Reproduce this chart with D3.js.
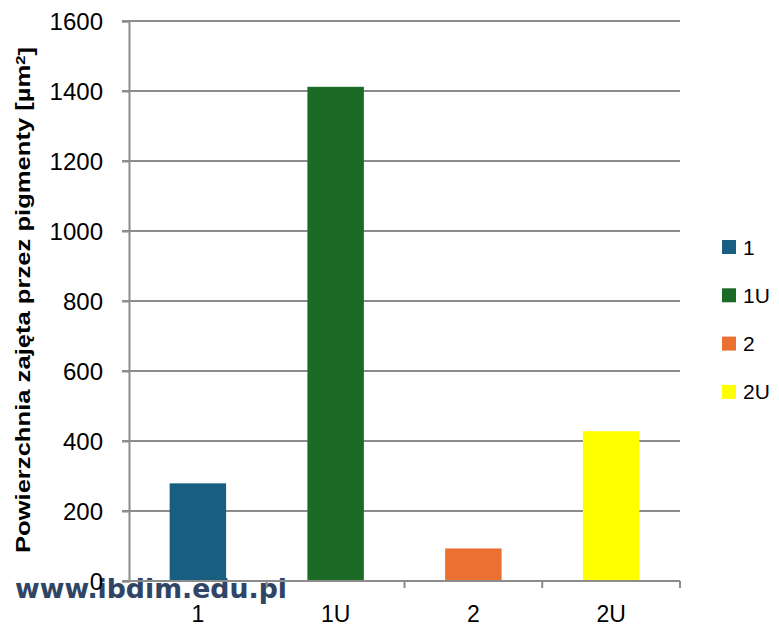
<!DOCTYPE html>
<html>
<head>
<meta charset="utf-8">
<script src="https://cdn.jsdelivr.net/npm/d3@7"></script>
<style>
  body { margin: 0; background: #fff; }
  text { font-family: "Liberation Sans", Arial, sans-serif; }
</style>
</head>
<body>
<div id="chart-area"></div>
<script>
// data
const categories = ["1", "1U", "2", "2U"]
const values = [279, 1412, 93, 428]
const colors = ["#175e80", "#1b6b26", "#ea7131", "#ffff00"]
const yTicks = [0, 200, 400, 600, 800, 1000, 1200, 1400, 1600]

const W = 779, H = 625
const MARGIN = { LEFT: 129, RIGHT: 99, TOP: 21, BOTTOM: 44 }
const WIDTH = W - MARGIN.LEFT - MARGIN.RIGHT
const HEIGHT = H - MARGIN.TOP - MARGIN.BOTTOM

const svg = d3.select("#chart-area").append("svg")
	.attr("width", W)
	.attr("height", H)

// watermark (sits under the axis)
svg.append("text")
	.attr("x", 15)
	.attr("y", 598)
	.attr("textLength", 272)
	.attr("lengthAdjust", "spacingAndGlyphs")
	.style("font-family", "'DejaVu Sans', Verdana, sans-serif")
	.style("font-weight", "bold")
	.style("font-size", "26px")
	.style("fill", "#2f4563")
	.style("stroke", "#e8eef6")
	.style("stroke-width", 0.6)
	.style("paint-order", "stroke")
	.text("www.ibdim.edu.pl")

const g = svg.append("g")
	.attr("transform", `translate(${MARGIN.LEFT}, ${MARGIN.TOP})`)

const x = d3.scaleBand()
	.domain(categories)
	.range([0, WIDTH])
	.paddingInner(0.59)
	.paddingOuter(0.295)

const y = d3.scaleLinear()
	.domain([0, 1600])
	.range([HEIGHT, 0])

// gridlines
g.append("g")
	.selectAll("line")
	.data(yTicks.filter(d => d > 0))
	.enter().append("line")
	.attr("x1", -7)
	.attr("x2", WIDTH)
	.attr("y1", d => y(d))
	.attr("y2", d => y(d))
	.attr("stroke", "#8c8c8c")
	.attr("stroke-width", 2)

// y axis
const yAxisCall = d3.axisLeft(y)
	.tickValues(yTicks)
	.tickFormat(d3.format("d"))
	.tickSize(7)
	.tickPadding(19)
const yAxisGroup = g.append("g").call(yAxisCall)
yAxisGroup.select(".domain").attr("stroke", "#8c8c8c").attr("stroke-width", 2)
yAxisGroup.selectAll(".tick line").attr("stroke", "#8c8c8c").attr("stroke-width", 2)
yAxisGroup.selectAll("text")
	.style("font-size", "24px")
	.attr("fill", "#000")
	.attr("dy", "0.36em")

// bars
g.selectAll("rect.bar")
	.data(values)
	.enter().append("rect")
	.attr("class", "bar")
	.attr("x", (d, i) => x(categories[i]))
	.attr("width", x.bandwidth())
	.attr("y", d => y(d))
	.attr("height", d => HEIGHT - y(d))
	.attr("fill", (d, i) => colors[i])

// x axis with ticks between categories
const xAxisGroup = g.append("g")
	.attr("transform", `translate(0, ${HEIGHT})`)
xAxisGroup.append("line")
	.attr("x1", -7)
	.attr("x2", WIDTH)
	.attr("stroke", "#8c8c8c")
	.attr("stroke-width", 2)
xAxisGroup.selectAll("line.sep")
	.data(categories.slice(1).concat([null]))
	.enter().append("line")
	.attr("class", "sep")
	.attr("x1", (d, i) => i < categories.length - 1 ? x(d) - x.step() * x.paddingInner() / 2 : WIDTH)
	.attr("x2", (d, i) => i < categories.length - 1 ? x(d) - x.step() * x.paddingInner() / 2 : WIDTH)
	.attr("y1", 0)
	.attr("y2", 7)
	.attr("stroke", "#8c8c8c")
	.attr("stroke-width", 2)
xAxisGroup.selectAll("text")
	.data(categories)
	.enter().append("text")
	.attr("x", d => x(d) + x.bandwidth() / 2)
	.attr("y", 41)
	.attr("text-anchor", "middle")
	.style("font-size", "23px")
	.text(d => d)

// y label, stretched along its length like the reference
const yLabel = svg.append("text")
	.attr("transform", "translate(30, 300) rotate(-90) scale(1.28, 1)")
	.attr("text-anchor", "middle")
	.style("font-size", "20px")
	.style("font-weight", "bold")
yLabel.append("tspan").text("Powierzchnia zajęta przez pigmenty [µm")
yLabel.append("tspan").attr("dy", "-0.4em").style("font-size", "13px").text("2")
yLabel.append("tspan").attr("dy", "0.4em").text("]")

// legend
const legend = svg.append("g")
	.attr("transform", "translate(722, 247)")
const items = legend.selectAll("g")
	.data(categories)
	.enter().append("g")
	.attr("transform", (d, i) => `translate(0, ${i * 48.3})`)
items.append("rect")
	.attr("x", 0)
	.attr("y", -7)
	.attr("width", 14)
	.attr("height", 14)
	.attr("fill", (d, i) => colors[i])
items.append("text")
	.attr("x", 21)
	.attr("dy", "0.36em")
	.style("font-size", "21px")
	.text(d => d)
</script>
</body>
</html>
